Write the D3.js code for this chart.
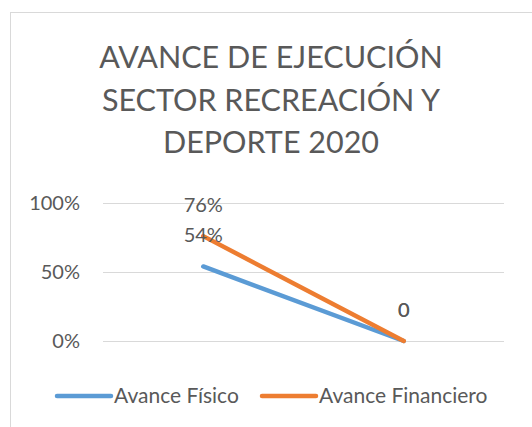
<!DOCTYPE html>
<html>
<head>
<meta charset="utf-8">
<script src="https://cdn.jsdelivr.net/npm/d3@7"></script>
<style>
  body { margin: 0; background: #fff; }
  text { font-family: Lato, "Open Sans", sans-serif; fill: #595959; }
</style>
</head>
<body>
<svg width="532" height="427"></svg>
<script>
// chart data
var categories = ["A", "B"];
var fisico = [0.54, 0];
var financiero = [0.76, 0];
var seriesNames = ["Avance Físico", "Avance Financiero"];
var yTicks = [0, 0.5, 1];
var titleLines = ["AVANCE DE EJECUCIÓN", "SECTOR RECREACIÓN Y", "DEPORTE 2020"];

var colors = ["#5B9BD5", "#ED7D31"];

var svg = d3.select("svg"),
    margin = {top: 203, right: 28, bottom: 86, left: 103},
    width = 532 - margin.left - margin.right,
    height = 427 - margin.top - margin.bottom,
    g = svg.append("g").attr("transform",
        "translate(" + margin.left + "," + margin.top + ")");

// chart frame
svg.append("rect")
    .attr("x", 10.5).attr("y", 12.5)
    .attr("width", 540).attr("height", 440)
    .attr("fill", "none")
    .attr("stroke", "#D9D9D9");

// title
svg.append("g").selectAll("text")
    .data(titleLines)
    .enter().append("text")
    .attr("x", 271)
    .attr("y", function (d, i) { return 68 + i * 42.5; })
    .attr("text-anchor", "middle")
    .style("font-size", "30.5px")
    .text(function (d) { return d; });

var x = d3.scalePoint().domain(categories).range([0, width]).padding(0.5),
    y = d3.scaleLinear().domain([0, 1]).range([height, 0]);

// gridlines
g.append("g")
    .selectAll("line")
    .data(yTicks)
    .enter().append("line")
    .attr("x1", 0).attr("x2", width)
    .attr("y1", function (d) { return Math.round(y(d)) + 0.5; })
    .attr("y2", function (d) { return Math.round(y(d)) + 0.5; })
    .attr("stroke", "#D9D9D9");

// y axis labels
var yAxis = g.append("g")
    .call(d3.axisLeft(y).tickValues(yTicks).tickSize(0).tickPadding(23)
        .tickFormat(d3.format(".0%")));
yAxis.select(".domain").remove();
yAxis.selectAll("text")
    .attr("fill", "#595959")
    .style("font-family", "Lato, 'Open Sans', sans-serif")
    .style("font-size", "20px");

var dataset = [fisico, financiero].map(function (vals, k) {
    return {
        name: seriesNames[k],
        color: colors[k],
        values: vals.map(function (v, i) { return {cat: categories[i], value: v}; })
    };
});

var line = d3.line()
    .x(function (d) { return x(d.cat); })
    .y(function (d) { return y(d.value); });

g.selectAll(".serie")
    .data(dataset)
    .enter().append("path")
    .attr("class", "serie")
    .attr("d", function (d) { return line(d.values); })
    .attr("fill", "none")
    .attr("stroke", function (d) { return d.color; })
    .attr("stroke-width", 4.5)
    .attr("stroke-linecap", "round");

// data labels
var pct = d3.format(".0%");
dataset.forEach(function (s) {
    g.append("g").selectAll("text")
        .data(s.values)
        .enter().append("text")
        .attr("x", function (d) { return x(d.cat); })
        .attr("y", function (d) { return y(d.value) - 24; })
        .attr("text-anchor", "middle")
        .style("font-size", "20px")
        .attr("fill", function (d) { return d.value === 0 ? "#404040" : "#595959"; })
        .text(function (d) { return d.value === 0 ? "0" : pct(d.value); });
});

// legend
var legend = svg.append("g").attr("transform", "translate(0,396)");
var legX = [57, 262];
dataset.forEach(function (s, i) {
    legend.append("line")
        .attr("x1", legX[i]).attr("x2", legX[i] + 54)
        .attr("y1", 0).attr("y2", 0)
        .attr("stroke", s.color)
        .attr("stroke-width", 4.5)
        .attr("stroke-linecap", "round");
    legend.append("text")
        .attr("x", legX[i] + 57)
        .attr("y", 7)
        .style("font-size", "21px")
        .text(s.name);
});
</script>
</body>
</html>
